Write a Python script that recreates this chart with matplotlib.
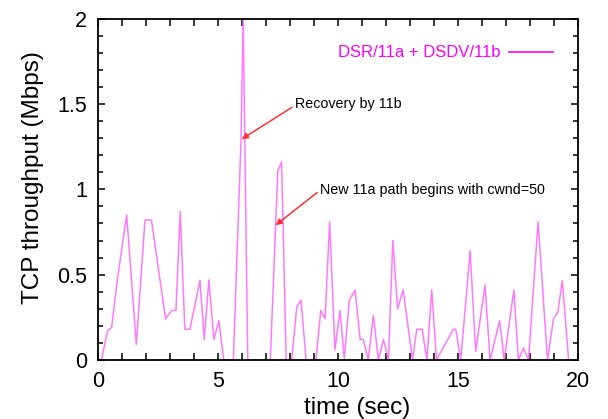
import matplotlib
matplotlib.use("Agg")
import matplotlib.pyplot as plt
from matplotlib.lines import Line2D
from matplotlib.ticker import MultipleLocator

plt.rcParams['font.family'] = ['Liberation Sans', 'DejaVu Sans']

# TCP throughput trace (time in sec, throughput in Mbps)
time_s = [0.0, 0.15, 0.4, 0.57, 0.82, 1.2, 1.6, 1.96, 2.23, 2.82, 3.07, 3.25,
          3.43, 3.62, 3.83, 4.25, 4.43, 4.62, 4.83, 5.04, 5.24, 5.64, 5.96,
          6.05, 6.24, 7.18, 7.4, 7.49, 7.65, 7.84, 8.07, 8.28, 8.46, 8.67,
          9.08, 9.28, 9.46, 9.65, 9.87, 10.08, 10.26, 10.47, 10.71, 10.92,
          11.05, 11.26, 11.47, 11.68, 11.89, 12.1, 12.28, 12.48, 12.71, 13.1,
          13.28, 13.5, 13.7, 13.9, 14.1, 14.8, 14.9, 15.11, 15.5, 15.73,
          16.12, 16.33, 16.73, 16.92, 17.32, 17.51, 17.72, 17.93, 18.33,
          18.72, 18.97, 19.15, 19.34, 19.6, 20.0]
throughput = [0.0, 0.0, 0.17, 0.19, 0.48, 0.85, 0.09, 0.82, 0.82, 0.24, 0.29,
              0.29, 0.87, 0.18, 0.18, 0.465, 0.12, 0.47, 0.12, 0.23, 0.0, 0.0,
              1.29, 2.0, 0.0, 0.0, 0.79, 1.11, 1.16, 0.0, 0.0, 0.31, 0.35,
              0.0, 0.0, 0.29, 0.24, 0.81, 0.06, 0.29, 0.01, 0.35, 0.41, 0.12,
              0.12, 0.0, 0.26, 0.0, 0.12, 0.0, 0.70, 0.30, 0.41, 0.0, 0.18,
              0.18, 0.0, 0.41, 0.0, 0.18, 0.18, 0.0, 0.64, 0.05, 0.44, 0.0,
              0.23, 0.0, 0.41, 0.0, 0.07, 0.0, 0.81, 0.0, 0.24, 0.28, 0.465,
              0.0, 0.0]

series_label = "DSR/11a + DSDV/11b"
line_color = "#ff00ff"

fig = plt.figure(figsize=(6.08, 4.19), dpi=100)
ax = fig.add_axes([0.161, 0.141, 0.790, 0.814])

ax.plot(time_s, throughput, color="#ff6aff", lw=1.1, alpha=0.9)

ax.set_xlim(0, 20)
ax.set_ylim(0, 2)
ax.xaxis.set_major_locator(MultipleLocator(5))
ax.xaxis.set_minor_locator(MultipleLocator(1))
ax.yaxis.set_major_locator(MultipleLocator(0.5))
ax.yaxis.set_minor_locator(MultipleLocator(0.1))
ax.yaxis.set_major_formatter(plt.FuncFormatter(lambda v, p: f"{v:g}"))
ax.tick_params(which='both', direction='in', top=True, right=True,
               labelsize=15.5, width=1.1, pad=8)
ax.tick_params(axis='x', which='both', length=5)
ax.tick_params(axis='y', which='major', length=5)
ax.tick_params(axis='y', which='minor', length=3.5)
for s in ax.spines.values():
    s.set_linewidth(1.3)

ax.set_xlabel("time (sec)", fontsize=17.5, va='center')
ax.xaxis.set_label_coords(0.54, -0.141)
ax.set_ylabel("TCP throughput (Mbps)", fontsize=17.5, va='center')
ax.yaxis.set_label_coords(-0.135, 0.534)

handle = Line2D([], [], color=line_color, lw=1.2)
ax.legend([handle], [series_label], loc='center right', frameon=False,
          markerfirst=False, labelcolor=line_color, fontsize=12,
          handlelength=2.64, handletextpad=0.54, borderpad=0,
          borderaxespad=0, bbox_to_anchor=(0.948, 0.900))

arrow = dict(arrowstyle='-|>', color='#ff3030', lw=1.1, mutation_scale=9,
             shrinkA=0, shrinkB=0)
ax.annotate("Recovery by 11b", xy=(5.99, 1.295), xytext=(8.2, 1.50),
            fontsize=10.3, va='center', ha='left',
            arrowprops=dict(arrow, relpos=(0, 0.4)))
ax.annotate("New 11a path begins with cwnd=50", xy=(7.4, 0.79),
            xytext=(9.25, 0.995), fontsize=10.3, va='center', ha='left',
            arrowprops=dict(arrow, relpos=(0, 0.5)))

fig.savefig("out.png", dpi=100)
